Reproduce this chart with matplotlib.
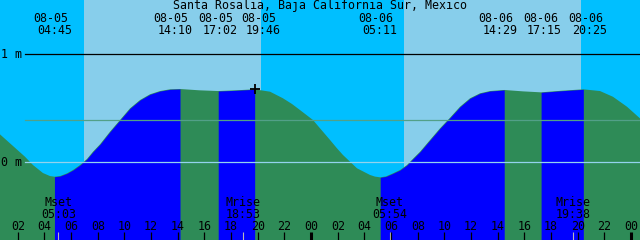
import matplotlib.pyplot as plt
import matplotlib.transforms as mtransforms

# time axis: hours counted from 08-05 00:00 (local), heights in metres
curve_t = [0.667, 2.54, 3.14, 3.89, 4.417, 4.75, 5.167, 5.69, 6.14, 6.67, 7.19, 7.64,
           8.17, 8.92, 9.67, 10.42, 11.17, 11.92, 12.67, 13.42, 14.167, 15.6, 17.033,
           18.4, 19.767, 20.92, 21.89, 22.57, 23.17, 24.14, 24.67, 25.42, 25.94, 26.39,
           27.44, 28.42, 28.79, 29.183, 29.62, 30.14, 30.67, 31.19, 31.64, 32.17, 32.92,
           33.67, 34.42, 35.17, 35.92, 36.67, 37.42, 38.483, 39.9, 41.25, 42.8, 44.417,
           45.67, 46.64, 47.69, 48.667]
curve_h = [0.256, 0.049, -0.028, -0.102, -0.130, -0.136, -0.130, -0.105, -0.074, -0.028, 0.028, 0.095,
           0.164, 0.281, 0.389, 0.497, 0.574, 0.627, 0.657, 0.673, 0.676, 0.664, 0.657,
           0.664, 0.673, 0.651, 0.590, 0.537, 0.481, 0.389, 0.312, 0.204, 0.127, 0.065,
           -0.058, -0.120, -0.135, -0.142, -0.133, -0.105, -0.074, -0.028, 0.030, 0.095, 0.204,
           0.312, 0.410, 0.512, 0.590, 0.636, 0.657, 0.667, 0.654, 0.645, 0.660, 0.673,
           0.657, 0.604, 0.512, 0.404]

# high / low tides
tide_t = [4.75, 14.167, 17.033, 19.767, 29.183, 38.483, 41.25, 44.417]
tide_kind = ['L', 'H', 'L', 'H', 'L', 'H', 'L', 'H']
tide_date = ['08-05', '08-05', '08-05', '08-05', '08-06', '08-06', '08-06', '08-06']
tide_clock = ['04:45', '14:10', '17:02', '19:46', '05:11', '14:29', '17:15', '20:25']

# daylight
sun_rise = [6.97, 30.97]
sun_set = [20.23, 44.23]

# moon
moon_t = [5.05, 18.883, 29.9, 43.633]
moon_name = ['Mset', 'Mrise', 'Mset', 'Mrise']
moon_clock = ['05:03', '18:53', '05:54', '19:38']

now_t = 19.767
now_h = 0.673
mean_level = 0.389

title = "Santa Rosalia, Baja California Sur, Mexico"

NIGHT = '#00BFFF'
DAY = '#87CEEB'
FLOOD = '#0000FF'
EBB = '#2E8B57'

W, H = 640, 240
t0, t1 = 0.667, 48.667
hpp = (t1 - t0) / W      # hours per pixel
label_shift = [0, -5, 1.5, 8.5, 0, -4, 3.5, 6]   # px, label spreading


def fy(py):
    return 1 - py / H


fig = plt.figure(figsize=(6.4, 2.4), dpi=100, facecolor=NIGHT)
ax = fig.add_axes([0, 0, 1, 1])
ax.set_facecolor(NIGHT)
ax.set_xlim(t0, t1)
ax.set_ylim(-0.722, 1.5)
ax.set_xticks([])
ax.set_yticks([])
for s in ax.spines.values():
    s.set_visible(False)
bt = mtransforms.blended_transform_factory(ax.transData, ax.transAxes)

for r, s in zip(sun_rise, sun_set):
    ax.axvspan(r, s, color=DAY, lw=0, zorder=0)

# ebb everywhere, flood between each low and the next high
ax.fill_between(curve_t, -1, curve_h, color=EBB, lw=0, zorder=1)
for i, k in enumerate(tide_kind):
    if k == 'L' and i + 1 < len(tide_t):
        seg = [j for j, t in enumerate(curve_t) if tide_t[i] <= t <= tide_t[i + 1]]
        ax.fill_between([curve_t[j] for j in seg], -1, [curve_h[j] for j in seg],
                        color=FLOOD, lw=0, zorder=1.1)

x_left = 25 / W
ax.axhline(1, xmin=x_left, color='black', lw=0.9, zorder=2)
ax.axhline(mean_level, xmin=x_left, color='#52A088', lw=0.9, zorder=2)
ax.axhline(0, xmin=x_left, color='#93D3EE', lw=0.9, zorder=2)

ax.plot([now_t], [now_h], marker='+', ms=7, mew=1.3, color='black', zorder=4)

font = dict(family='DejaVu Sans Mono', size=8.4, color='black', zorder=5)

ax.text(0.5, fy(9), title, transform=ax.transAxes, ha='center', va='baseline', **font)
ax.text(1 / W, fy(57.7), "1 m", transform=ax.transAxes, ha='left', va='baseline', **font)
ax.text(1 / W, fy(165.7), "0 m", transform=ax.transAxes, ha='left', va='baseline', **font)

for t, d, c, sh in zip(tide_t, tide_date, tide_clock, label_shift):
    x = t + sh * hpp
    ax.text(x - 4 * hpp, fy(22), d, transform=bt, ha='center', va='baseline', **font)
    ax.text(x, fy(34), c, transform=bt, ha='center', va='baseline', **font)

for t, n, c in zip(moon_t, moon_name, moon_clock):
    ax.text(t, fy(206), n, transform=bt, ha='center', va='baseline', **font)
    ax.text(t, fy(217.7), c, transform=bt, ha='center', va='baseline', **font)
    ax.vlines(t, fy(H), fy(232), transform=bt, color='#B8B8B8', lw=0.8, zorder=4)

tick_hours = list(range(2, 49, 2))
for h in tick_hours:
    ax.text(h, fy(229.5), f"{h % 24:02d}", transform=bt, ha='center', va='baseline', **font)
    ax.vlines(h, fy(H), fy(232), transform=bt, color='black',
              lw=2.2 if h % 24 == 0 else 0.9, zorder=4)

fig.savefig("out.png", dpi=100, facecolor=NIGHT)
